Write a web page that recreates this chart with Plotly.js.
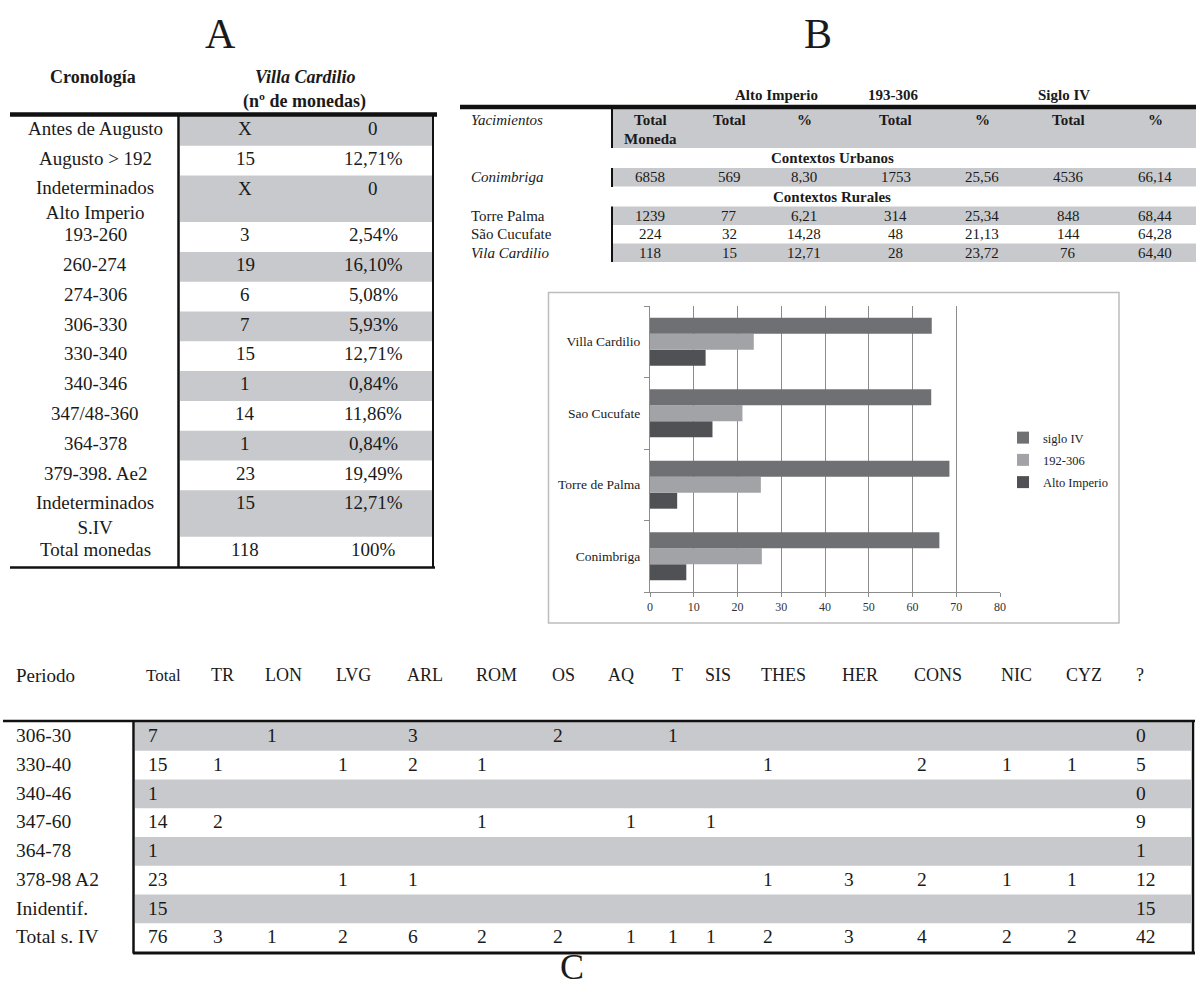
<!DOCTYPE html>
<html>
<head>
<meta charset="utf-8">
<script src="https://cdn.plot.ly/plotly-3.0.1.min.js"></script>
<style>html,body{margin:0;padding:0;background:#fff;}#fig{width:1196px;height:994px;}</style>
</head>
<body>
<div id="fig"></div>
<script>
// ---------------- DATA ----------------
// Table A
const cronA = ['Antes de Augusto','Augusto > 192','Indeterminados<br>Alto Imperio','193-260','260-274','274-306','306-330','330-340','340-346','347/48-360','364-378','379-398. Ae2','Indeterminados<br>S.IV','Total monedas'];
const nA = ['X','15','X','3','19','6','7','15','1','14','1','23','15','118'];
const pctA = ['0','12,71%','0','2,54%','16,10%','5,08%','5,93%','12,71%','0,84%','11,86%','0,84%','19,49%','12,71%','100%'];

// Table B
const sitesB = ['Conimbriga','Torre Palma','São Cucufate','Vila Cardilio'];
const italicB = [true,false,false,true];
const totalMonedaB = ['6858','1239','224','118'];
const altoTotalB = ['569','77','32','15'];
const altoPctB = ['8,30','6,21','14,28','12,71'];
const s3TotalB = ['1753','314','48','28'];
const s3PctB = ['25,56','25,34','21,13','23,72'];
const s4TotalB = ['4536','848','144','76'];
const s4PctB = ['66,14','68,44','64,28','64,40'];

// Chart (bottom to top)
const chartSites = ['Conimbriga','Torre de Palma','Sao Cucufate','Villa Cardilio'];
const chartAlto = [8.30, 6.21, 14.28, 12.71];
const chart192 = [25.56, 25.34, 21.13, 23.72];
const chartS4 = [66.14, 68.44, 64.28, 64.40];
const seriesNames = ['Alto Imperio','192-306','siglo IV'];

// Table C
const periodsC = ['306-30','330-40','340-46','347-60','364-78','378-98 A2','Inidentif.','Total s. IV'];
const mintsC = ['Total','TR','LON','LVG','ARL','ROM','OS','AQ','T','SIS','THES','HER','CONS','NIC','CYZ','?'];
const r306 = [7,null,1,null,3,null,2,null,1,null,null,null,null,null,null,0];
const r330 = [15,1,null,1,2,1,null,null,null,null,1,null,2,1,1,5];
const r340 = [1,null,null,null,null,null,null,null,null,null,null,null,null,null,null,0];
const r347 = [14,2,null,null,null,1,null,1,null,1,null,null,null,null,null,9];
const r364 = [1,null,null,null,null,null,null,null,null,null,null,null,null,null,null,1];
const r378 = [23,null,null,1,1,null,null,null,null,null,1,3,2,1,1,12];
const rInd = [15,null,null,null,null,null,null,null,null,null,null,null,null,null,null,15];
const rTot = [76,3,1,2,6,2,2,1,1,1,2,3,4,2,2,42];
const rowsC = [r306,r330,r340,r347,r364,r378,rInd,rTot];

// ---------------- LAYOUT HELPERS ----------------
const W = 1196, H = 994;
const FONT = 'Liberation Serif';
const GRAY = '#c8c9cc';
const INK = '#1a1a1a';
const X = p => p / W;
const Y = p => 1 - p / H;
const annotations = [];
const shapes = [];
function txt(text, x, y, size, anchor, extra) {
  annotations.push(Object.assign({
    text: text, x: X(x), y: Y(y), xref: 'paper', yref: 'paper',
    xanchor: anchor || 'center', yanchor: 'middle', showarrow: false,
    borderpad: 0, font: {family: FONT, size: size, color: INK}
  }, extra || {}));
}
function rect(x0, y0, x1, y1, fill) {
  shapes.push({type: 'rect', xref: 'paper', yref: 'paper', x0: X(x0), x1: X(x1), y0: Y(y1), y1: Y(y0),
    fillcolor: fill, line: {width: 0}, layer: 'below'});
}
function line(x0, y0, x1, y1, w, color) {
  shapes.push({type: 'line', xref: 'paper', yref: 'paper', x0: X(x0), x1: X(x1), y0: Y(y0), y1: Y(y1),
    line: {color: color || '#111', width: w}, layer: 'above'});
}

// ---------------- TABLE A ----------------
txt('A', 220, 34, 42);
txt('<b>Cronología</b>', 93, 77, 18);
txt('<b><i>Villa Cardilio</i></b>', 305, 77, 18);
txt('<b>(nº de monedas)</b>', 304, 101, 18);
(function () {
  let top = 116;
  const colL = 95, col2 = 245, col3 = 373;
  cronA.forEach((lab, i) => {
    const two = lab.indexOf('<br>') >= 0;
    const h = two ? 46.5 : 29.8;
    if (i % 2 === 0) rect(180, top, 432, top + h, GRAY);
    const yc = top + 12.5;
    txt(lab, colL, two ? yc + 12 : yc, 19);
    txt(nA[i], col2, yc, 19);
    txt(pctA[i], col3, yc, 19);
    top += h;
  });
  line(10, 114.5, 437, 114.5, 4.5);
  line(178.5, 113, 178.5, 568, 2.5);
  line(433, 113, 433, 568, 2);
  line(10, 567.5, 435, 567.5, 2.5);
})();

// ---------------- TABLE B ----------------
txt('B', 818, 34, 42);
(function () {
  const cols = [650, 729, 804, 896, 982, 1068, 1155];
  txt('<b>Alto Imperio</b>', 776, 95, 15);
  txt('<b>193-306</b>', 893, 95, 15);
  txt('<b>Siglo IV</b>', 1064, 95, 15);
  rect(613, 109, 1196, 148, GRAY);
  txt('<i>Yacimientos</i>', 470, 120, 15, 'left');
  const heads = ['<b>Total</b>', '<b>Total</b>', '<b>%</b>', '<b>Total</b>', '<b>%</b>', '<b>Total</b>', '<b>%</b>'];
  heads.forEach((h, j) => txt(h, cols[j], 120, 15));
  txt('<b>Moneda</b>', cols[0], 139, 15);
  txt('<b>Contextos Urbanos</b>', 832, 158, 15);
  txt('<b>Contextos Rurales</b>', 832, 197, 15);
  const rowTops = [168, 206.5, 225, 243.5];
  const rowH = 18.5;
  sitesB.forEach((s, i) => {
    const t = rowTops[i];
    if (i !== 2) rect(613, t, 1196, t + rowH, GRAY);
    const yc = t + rowH / 2;
    txt(italicB[i] ? '<i>' + s + '</i>' : s, 470, yc, 15, 'left');
    const vals = [totalMonedaB[i], altoTotalB[i], altoPctB[i], s3TotalB[i], s3PctB[i], s4TotalB[i], s4PctB[i]];
    vals.forEach((v, j) => txt(v, cols[j], yc, 15));
  });
  line(460, 107, 1196, 107, 4.5);
  line(612, 109, 612, 148, 2);
  line(612, 168, 612, 187, 2);
  line(612, 206.5, 612, 262, 2);
})();

// chart frame
shapes.push({type: 'rect', xref: 'paper', yref: 'paper', x0: X(548.5), x1: X(1119), y0: Y(623), y1: Y(292.5),
  fillcolor: 'rgba(0,0,0,0)', line: {color: '#bdbdbd', width: 1.5}, layer: 'below'});

// ---------------- TABLE C ----------------
txt('C', 572, 967, 36);
(function () {
  const headX = [145, 210, 264, 335, 406, 475, 551, 607, 671, 704, 760, 841, 913, 1000, 1065, 1135];
  const valX = [147, 212, 266, 337, 407, 476, 552, 625, 667, 705, 762, 843, 916, 1001, 1066, 1135];
  txt('Periodo', 15, 675, 19, 'left');
  mintsC.forEach((m, j) => txt(m, headX[j], 675, j === 0 ? 17 : 18, 'left'));
  const top0 = 722, rh = 28.75;
  periodsC.forEach((p, i) => {
    const t = top0 + i * rh;
    if (i % 2 === 0) rect(135, t, 1191, t + rh, GRAY);
    const yc = t + 13.5;
    txt(p, 15, yc, 19.5, 'left');
    rowsC[i].forEach((v, j) => {
      if (v !== null) txt(String(v), valX[j], yc, 19.5, 'left');
    });
  });
  line(3, 721, 1195, 721, 2.5);
  line(133.5, 720, 133.5, 953.5, 2.5);
  line(1193, 720, 1193, 953.5, 2.5);
  line(133, 953, 1195, 953, 3);
})();

// ---------------- CHART ----------------
const colors = ['#505154', '#a2a3a6', '#6f7073'];
const ranks = [3, 2, 1];
const seriesVals = [chartAlto, chart192, chartS4];
const traces = seriesVals.map((vals, k) => ({
  type: 'bar', orientation: 'h', name: seriesNames[k], legendgroup: 'g' + k, legendrank: ranks[k],
  y: chartSites, x: vals, marker: {color: colors[k], line: {width: 0}},
  hoverinfo: 'x+y'
}));

const layout = {
  width: W, height: H,
  margin: {l: 0, r: 0, t: 0, b: 0},
  paper_bgcolor: '#fff', plot_bgcolor: 'rgba(0,0,0,0)',
  font: {family: FONT, color: INK},
  barmode: 'group', bargap: 0.33, bargroupgap: 0,
  xaxis: {
    domain: [X(650), X(1000)], range: [0, 80], dtick: 10, tick0: 0,
    showgrid: true, gridcolor: '#8c8c8c', gridwidth: 1, zeroline: false,
    showline: true, linecolor: '#8c8c8c', linewidth: 1,
    ticks: 'outside', ticklen: 4, tickcolor: '#8c8c8c',
    tickfont: {family: FONT, size: 12, color: '#333'}, fixedrange: true
  },
  yaxis: {
    domain: [Y(592), Y(306)], type: 'category',
    showline: true, linecolor: '#8c8c8c', linewidth: 1,
    ticks: 'outside', tickson: 'boundaries', ticklen: 5, tickcolor: '#8c8c8c',
    showgrid: false, zeroline: false, ticklabelstandoff: 6,
    tickfont: {family: FONT, size: 13.5, color: '#222'}, fixedrange: true
  },
  showlegend: true,
  legend: {
    x: X(1003), y: Y(423), xanchor: 'left', yanchor: 'top',
    traceorder: 'grouped', tracegroupgap: 3, bgcolor: 'rgba(0,0,0,0)',
    font: {family: FONT, size: 12.5, color: '#222'}, itemwidth: 30
  },
  annotations: annotations,
  shapes: shapes
};

Plotly.newPlot('fig', traces, layout, {displayModeBar: false, staticPlot: true});
</script>
</body>
</html>
